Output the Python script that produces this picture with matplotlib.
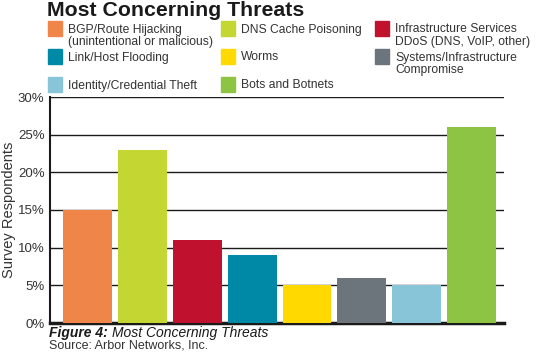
import matplotlib.pyplot as plt
from matplotlib.patches import Rectangle
import numpy as np

plt.rcParams['font.family'] = ['Liberation Sans', 'DejaVu Sans']

# Данные (доля респондентов, %)
threats = ['BGP/Route Hijacking\n(unintentional or malicious)', 'DNS Cache Poisoning',
           'Infrastructure Services\nDDoS (DNS, VoIP, other)', 'Link/Host Flooding', 'Worms',
           'Systems/Infrastructure\nCompromise', 'Identity/Credential Theft', 'Bots and Botnets']
share = [15, 23, 11, 9, 5, 6, 5, 26]
colors = ['#F0854A', '#C4D632', '#C0122F', '#0089A6', '#FFD900', '#6B757B', '#88C5D8', '#8DC443']
yticks = [0, 5, 10, 15, 20, 25, 30]

fig = plt.figure(figsize=(5.4, 3.55), dpi=100)
ax = fig.add_axes([50/540, 1 - 323/355, 454/540, 226/355])

x = np.arange(len(share))
ax.bar(x, share, width=0.89, color=colors, zorder=3)
ax.set_xlim(-0.683, 7.59)
ax.set_ylim(0, 30)
ax.set_yticks(yticks)
ax.set_yticklabels([f'{t}%' for t in yticks], fontsize=9.5, color='#333333')
ax.set_xticks([])
ax.tick_params(axis='y', length=0, pad=4)
ax.yaxis.grid(True, color='#1a1a1a', linewidth=1, zorder=1)
for s in ['top', 'right']:
    ax.spines[s].set_visible(False)
ax.spines['left'].set_linewidth(1.5)
ax.spines['bottom'].set_linewidth(2.5)
ax.spines['left'].set_color('#1a1a1a')
ax.spines['bottom'].set_color('#1a1a1a')
ax.set_ylabel('Survey Respondents', fontsize=10.5, color='#333333', labelpad=1)

# Заголовок
fig.text(47/540, 1 - 16/355, 'Most Concerning Threats', fontsize=15.3, fontweight='bold',
         color='#1a1a1a', va='baseline', ha='left')

# Легенда вручную (3 колонки)
col_x = [48, 221, 375]
row_y = [21, 49, 77]
for i, (lab, c) in enumerate(zip(threats, colors)):
    r, k = divmod(i, 3)
    px, py = col_x[k], row_y[r]
    fig.add_artist(Rectangle((px/540, 1 - (py + 15)/355), 14/540, 15/355,
                             transform=fig.transFigure, color=c))
    fig.text((px + 20)/540, 1 - (py + 2.5)/355, lab, fontsize=8.7, color='#333333',
             va='top', ha='left', linespacing=1.1)

# Подпись
fig_lbl = fig.text(49/540, 1 - 337/355, 'Figure 4: ', fontsize=10, fontweight='bold',
                   style='italic', color='#1a1a1a', va='baseline')
fig.canvas.draw()
bb = fig_lbl.get_window_extent()
fig.text(bb.x1/540, 1 - 337/355, 'Most Concerning Threats', fontsize=10, style='italic',
         color='#1a1a1a', va='baseline')
fig.text(49/540, 1 - 349/355, 'Source: Arbor Networks, Inc.', fontsize=9,
         color='#333333', va='baseline')

fig.savefig('out.png', dpi=100)
